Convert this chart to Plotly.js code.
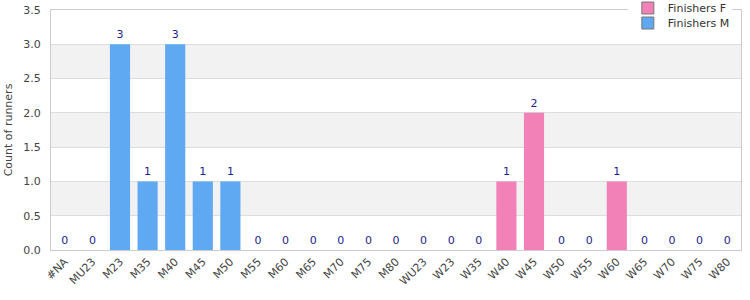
<!DOCTYPE html>
<html><head><meta charset="utf-8">
<script src="https://cdn.plot.ly/plotly-3.0.1.min.js"></script>
<style>html,body{margin:0;padding:0;background:#fff}#c{width:750px;height:300px}</style>
</head><body><div id="c"></div>
<script>
var categories = ["#NA","MU23","M23","M35","M40","M45","M50","M55","M60","M65","M70","M75","M80","WU23","W23","W35","W40","W45","W50","W55","W60","W65","W70","W75","W80"];
var maleCats = ["#NA","MU23","M23","M35","M40","M45","M50","M55","M60","M65","M70","M75","M80"];
var maleValues = [0,0,3,1,3,1,1,0,0,0,0,0,0];
var femaleCats = ["WU23","W23","W35","W40","W45","W50","W55","W60","W65","W70","W75","W80"];
var femaleValues = [0,0,0,1,2,0,0,1,0,0,0,0];
var yTicks = [0,0.5,1,1.5,2,2.5,3,3.5];

var font = "DejaVu Sans, Verdana, sans-serif";
var pink = "#f281b8", blue = "#5fa8f2", labelColor = "#1e1e8c";
var shapes = [];
[[0.5,1],[1.5,2],[2.5,3]].forEach(function(b){
  shapes.push({type:"rect",xref:"paper",yref:"y",x0:0,x1:1,y0:b[0],y1:b[1],fillcolor:"#f2f2f2",line:{width:0},layer:"below"});
});

var traces = [
  {type:"bar",name:"Finishers F",x:femaleCats,y:femaleValues,marker:{color:pink},showlegend:false,
   text:femaleValues.map(String),textposition:"outside",textfont:{color:labelColor,size:11,family:font},cliponaxis:false},
  {type:"bar",name:"Finishers M",x:maleCats,y:maleValues,marker:{color:blue},showlegend:false,
   text:maleValues.map(String),textposition:"outside",textfont:{color:labelColor,size:11,family:font},cliponaxis:false},
  {type:"bar",name:"Finishers F",x:[categories[0]],y:[null],marker:{color:pink,line:{color:"#777",width:1}},showlegend:true,legend:"legend"},
  {type:"bar",name:"Finishers M",x:[categories[0]],y:[null],marker:{color:blue,line:{color:"#777",width:1}},showlegend:true,legend:"legend2"}
];

var layout = {
  width:750,height:300,
  margin:{l:51,r:9,t:10,b:50,autoexpand:false},
  paper_bgcolor:"#fff",plot_bgcolor:"#fff",
  font:{family:font,size:11,color:"#444"},
  barmode:"overlay",bargap:0.27,
  showlegend:true,
  legend:{x:0.836,xanchor:"left",y:1.0083,yanchor:"middle",bgcolor:"#fff",font:{size:11,color:"#333"},itemwidth:30},
  legend2:{x:0.836,xanchor:"left",y:0.9458,yanchor:"middle",bgcolor:"rgba(0,0,0,0)",font:{size:11,color:"#333"},itemwidth:30},
  xaxis:{type:"category",categoryorder:"array",categoryarray:categories,tickangle:-45,automargin:false,
    showline:true,linecolor:"#ccc",linewidth:1,mirror:true,tickfont:{size:11,color:"#444"},ticks:"",fixedrange:true},
  yaxis:{range:[0,3.5],tickvals:yTicks,ticktext:yTicks.map(function(v){return v.toFixed(1);}),automargin:false,
    showgrid:true,gridcolor:"#ddd",showline:true,linecolor:"#ccc",mirror:true,zeroline:false,ticklabelstandoff:7,
    title:{text:"Count of runners",font:{size:11,color:"#444"},standoff:8},tickfont:{size:11,color:"#444"}},
  shapes:shapes
};
Plotly.newPlot("c",traces,layout,{displayModeBar:false,staticPlot:true});
</script></body></html>
